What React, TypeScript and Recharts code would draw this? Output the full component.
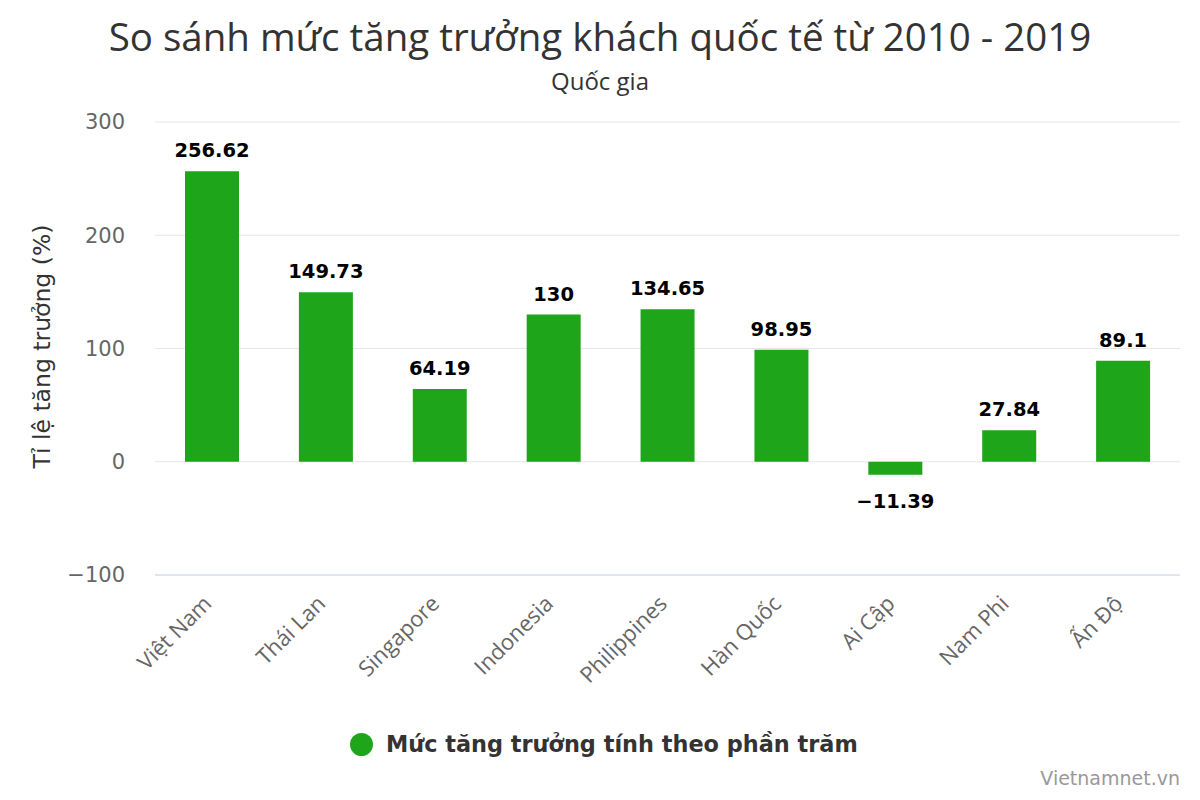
import { Bar, BarChart, CartesianGrid, LabelList, XAxis, YAxis } from 'recharts';

const countries = ['Việt Nam', 'Thái Lan', 'Singapore', 'Indonesia', 'Philippines', 'Hàn Quốc', 'Ai Cập', 'Nam Phi', 'Ấn Độ'];
const growth = [256.62, 149.73, 64.19, 130, 134.65, 98.95, -11.39, 27.84, 89.1];
const yTicks = [-100, 0, 100, 200, 300];

const data = countries.map((name, i) => ({ name, value: growth[i] }));

const GREEN = '#1ea51a';
const SANS = '"Open Sans", sans-serif';
const DEJAVU = '"DejaVu Sans", sans-serif';

function XTick({ x, y, payload }: any) {
  return (
    <g transform={`translate(${x + 1},${y + 22})`}>
      <text
        transform="rotate(-45)"
        textAnchor="end"
        fill="#666"
        fontSize={22}
        fontFamily={SANS}
      >
        {payload.value}
      </text>
    </g>
  );
}

function ValueLabel({ x, y, width, height, value }: any) {
  const top = Math.min(y, y + height);
  const bottom = Math.max(y, y + height);
  const neg = value < 0;
  return (
    <text
      x={x + width / 2}
      y={neg ? bottom + 33 : top - 14}
      textAnchor="middle"
      fill="#000"
      fontSize={19.5}
      fontWeight="bold"
      fontFamily={DEJAVU}
    >
      {value < 0 ? '−' + Math.abs(value) : value}
    </text>
  );
}

function YTitle({ viewBox }: any) {
  const cx = 42;
  const cy = viewBox.y + viewBox.height / 2 - 2;
  return (
    <text
      x={cx}
      y={cy}
      transform={`rotate(-90 ${cx} ${cy})`}
      textAnchor="middle"
      dominantBaseline="central"
      fill="#333"
      fontSize={23.5}
      fontFamily={DEJAVU}
    >
      Tỉ lệ tăng trưởng (%)
    </text>
  );
}

export default function App() {
  return (
    <div style={{ position: 'absolute', left: 0, top: 0, width: 1200, height: 800, background: '#fff' }}>
      <div
        style={{
          position: 'absolute',
          top: 11,
          width: 1200,
          textAlign: 'center',
          fontFamily: SANS,
          fontSize: 38.5,
          color: '#333',
          lineHeight: '50px',
        }}
      >
        So sánh mức tăng trưởng khách quốc tế từ 2010 - 2019
      </div>
      <div
        style={{
          position: 'absolute',
          top: 66,
          width: 1200,
          textAlign: 'center',
          fontFamily: SANS,
          fontSize: 24,
          color: '#333',
          lineHeight: '30px',
        }}
      >
        Quốc gia
      </div>
      <BarChart width={1200} height={800} data={data} margin={{ top: 122, right: 20, bottom: 0, left: 0 }}>
        <CartesianGrid stroke="#e6e6e6" vertical={false} />
        <XAxis
          dataKey="name"
          height={225}
          interval={0}
          tickLine={false}
          axisLine={{ stroke: '#ccd6eb' }}
          tick={<XTick />}
        />
        <YAxis
          width={155}
          domain={[-100, 300]}
          ticks={yTicks}
          tickLine={false}
          axisLine={false}
          tickMargin={24}
          tick={{ fill: '#666', fontSize: 21, fontFamily: DEJAVU }}
          tickFormatter={(v: number) => (v < 0 ? '−' + Math.abs(v) : String(v))}
          label={<YTitle />}
        />
        <Bar dataKey="value" fill={GREEN} barSize={54} isAnimationActive={false}>
          <LabelList dataKey="value" content={<ValueLabel />} />
        </Bar>
      </BarChart>
      <div
        style={{
          position: 'absolute',
          top: 731,
          left: 350,
          display: 'flex',
          alignItems: 'center',
          fontFamily: DEJAVU,
          fontSize: 22.4,
          fontWeight: 'bold',
          color: '#333',
        }}
      >
        <span
          style={{ width: 23, height: 23, borderRadius: '50%', background: GREEN, marginRight: 13, display: 'inline-block' }}
        />
        Mức tăng trưởng tính theo phần trăm
      </div>
      <div
        style={{
          position: 'absolute',
          right: 20,
          top: 767,
          fontFamily: DEJAVU,
          fontSize: 19,
          color: '#999',
        }}
      >
        Vietnamnet.vn
      </div>
    </div>
  );
}
